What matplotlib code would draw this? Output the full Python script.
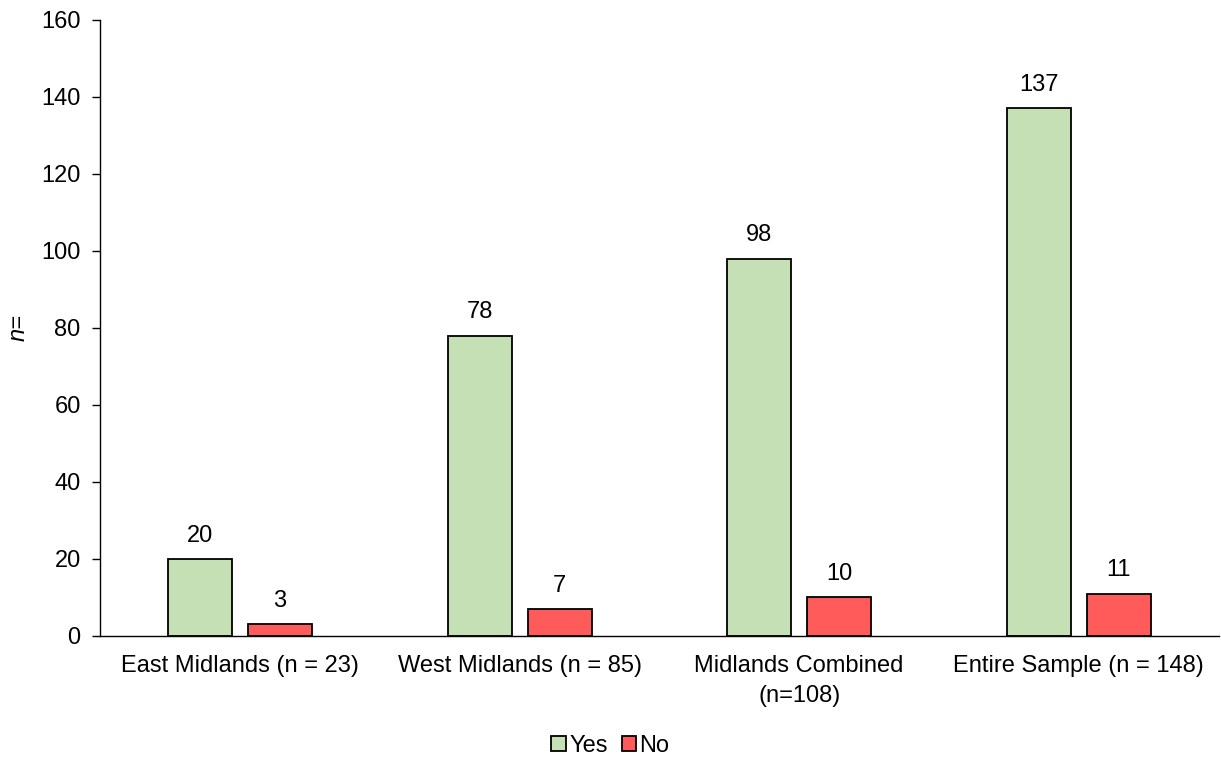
import numpy as np
import matplotlib.pyplot as plt

plt.rcParams['font.family'] = ['Liberation Sans', 'DejaVu Sans']

categories = ['East Midlands (n = 23)', 'West Midlands (n = 85)',
              'Midlands Combined\n(n=108)', 'Entire Sample (n = 148)']
yes_vals = [20, 78, 98, 137]
no_vals = [3, 7, 10, 11]

fs = 17

fig = plt.figure(figsize=(12.21, 7.58), dpi=100)
ax = fig.add_axes([0.082, 0.161, 0.916, 0.813])

x = np.arange(len(categories))
w = 0.229
off = 0.143
b1 = ax.bar(x - off, yes_vals, w, color='#C5E0B4', edgecolor='black', linewidth=1.3, label='Yes')
b2 = ax.bar(x + off, no_vals, w, color='#FF5B5B', edgecolor='black', linewidth=1.3, label='No')

for bars, vals in [(b1, yes_vals), (b2, no_vals)]:
    for r, v in zip(bars, vals):
        ax.text(r.get_x() + r.get_width() / 2, v + 3.2, str(v), ha='center', va='bottom', fontsize=fs)

ax.set_xlim(-0.5, 3.5)
ax.set_ylim(0, 160)
ax.set_yticks(np.arange(0, 161, 20))
ax.set_xticks(x)
ax.set_xticklabels(categories, fontsize=fs, linespacing=1.45)
ax.tick_params(axis='x', length=0, pad=14)
ax.tick_params(axis='y', labelsize=fs, length=6, width=1, pad=8)
ax.spines['top'].set_visible(False)
ax.spines['right'].set_visible(False)
ax.spines['left'].set_linewidth(1)
ax.spines['bottom'].set_linewidth(1)
ax.set_ylabel('n=', fontsize=fs, style='italic', labelpad=8)

fig.legend(loc='lower center', bbox_to_anchor=(0.5, -0.027), ncol=2, frameon=False,
           fontsize=fs, handlelength=0.6, handleheight=0.6, handletextpad=0.15, columnspacing=0.6)

fig.savefig('out.png', dpi=100)
